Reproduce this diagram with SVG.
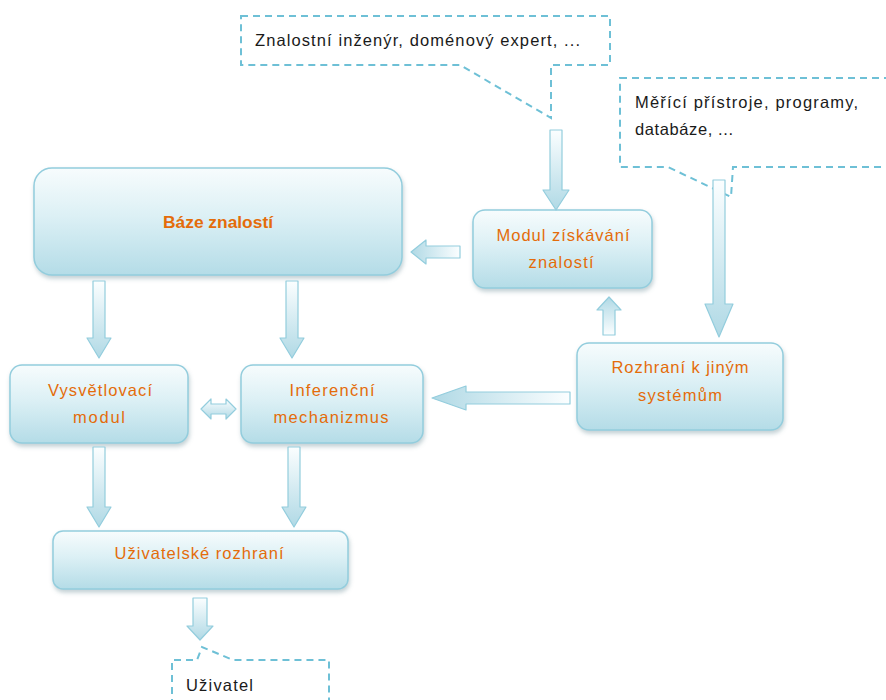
<svg xmlns="http://www.w3.org/2000/svg" width="886" height="700" viewBox="0 0 886 700">
  <style>
    .box { fill: url(#boxFill); stroke: #93cddd; stroke-width: 1.5; filter: url(#shadow); }
    .lbl { font-family: "Liberation Sans", Arial, sans-serif; font-size: 16.5px; fill: #e46c0a; text-anchor: middle; }
    .bold { font-weight: bold; font-size: 17px; }
    .note { fill: #ffffff; stroke: #6ec0d6; stroke-width: 2; stroke-dasharray: 7 5; }
    .notetxt { font-family: "Liberation Sans", Arial, sans-serif; font-size: 16.5px; fill: #1a1a1a; }
    .arr { fill: url(#arrFill); stroke: #93cddd; stroke-width: 1.2; stroke-linejoin: round; }
  </style>
  <defs>
    <linearGradient id="boxFill" x1="0" y1="0" x2="0" y2="1">
      <stop offset="0" stop-color="#f7fcfd"/>
      <stop offset="0.45" stop-color="#dcf0f5"/>
      <stop offset="1" stop-color="#b4dce7"/>
    </linearGradient>
    <linearGradient id="arrFill" x1="0" y1="0" x2="0" y2="1">
      <stop offset="0" stop-color="#fbfeff"/>
      <stop offset="1" stop-color="#b0d9e5"/>
    </linearGradient>
    <filter id="shadow" x="-10%" y="-10%" width="125%" height="140%">
      <feDropShadow dx="1" dy="3" stdDeviation="2" flood-color="#7a9aa3" flood-opacity="0.45"/>
    </filter>
  </defs>

  <!-- callouts -->
  <g id="note-experts">
    <path class="note" d="M241,16 H610 V65 H551 V118 L460,65 H241 Z"/>
    <text class="notetxt" x="255" y="46" textLength="325" lengthAdjust="spacing">Znalostní inženýr, doménový expert, ...</text>
  </g>
  <g id="note-systems">
    <path class="note" d="M620,78 H892 V167 H733 L731,197 L668,167 H620 Z"/>
    <text class="notetxt" x="635" y="108" textLength="223" lengthAdjust="spacing">Měřící přístroje, programy,</text>
    <text class="notetxt" x="635" y="135" textLength="98" lengthAdjust="spacing">databáze, ...</text>
  </g>
  <g id="note-user">
    <path class="note" d="M172,706 V660 H197 L202,647 L233,660 H329 V706"/>
    <text class="notetxt" x="186" y="691" textLength="67" lengthAdjust="spacing">Uživatel</text>
  </g>

  <!-- nodes -->
  <g id="knowledge-base">
    <rect class="box" x="34" y="168" width="368" height="107" rx="18"/>
    <text class="lbl bold" x="218" y="228" textLength="110" lengthAdjust="spacingAndGlyphs">Báze znalostí</text>
  </g>
  <g id="acquisition">
    <rect class="box" x="473" y="210" width="179" height="78" rx="12"/>
    <text class="lbl" x="563" y="241" textLength="133" lengthAdjust="spacing">Modul získávání</text>
    <text class="lbl" x="561" y="268" textLength="65" lengthAdjust="spacing">znalostí</text>
  </g>
  <g id="interface-systems">
    <rect class="box" x="577" y="343" width="206" height="87" rx="12"/>
    <text class="lbl" x="680" y="373" textLength="137" lengthAdjust="spacing">Rozhraní k jiným</text>
    <text class="lbl" x="680" y="401" textLength="84" lengthAdjust="spacing">systémům</text>
  </g>
  <g id="explanation">
    <rect class="box" x="10" y="365" width="178" height="78" rx="12"/>
    <text class="lbl" x="100" y="396" textLength="104" lengthAdjust="spacing">Vysvětlovací</text>
    <text class="lbl" x="99" y="423" textLength="52" lengthAdjust="spacing">modul</text>
  </g>
  <g id="inference">
    <rect class="box" x="241" y="365" width="182" height="78" rx="12"/>
    <text class="lbl" x="332" y="396" textLength="85" lengthAdjust="spacing">Inferenční</text>
    <text class="lbl" x="331" y="423" textLength="115" lengthAdjust="spacing">mechanizmus</text>
  </g>
  <g id="user-interface">
    <rect class="box" x="53" y="531" width="295" height="58" rx="10"/>
    <text class="lbl" x="199" y="559" textLength="169" lengthAdjust="spacing">Uživatelské rozhraní</text>
  </g>

  <!-- connectors: block arrows -->
  <g id="connectors">
    <!-- experts -> acquisition -->
    <path class="arr" d="M550,130 H562 V190 H569 L556,210 L543,190 H550 Z"/>
    <!-- systems note -> interface -->
    <path class="arr" d="M713,180 H725 V304 H733 L719,337 L705,304 H713 Z"/>
    <!-- acquisition -> knowledge base -->
    <path class="arr" transform="rotate(90 436 252)" d="M430,228 H442 V262 H448 L436,277 L424,262 H430 Z"/>
    <!-- interface -> acquisition -->
    <path class="arr" transform="rotate(180 609 316)" d="M603,297 H615 V322 H621 L609,335 L597,322 H603 Z"/>
    <!-- interface -> inference -->
    <path class="arr" transform="rotate(90 501 398)" d="M495,329 H507 V433 H513 L501,467 L489,433 H495 Z"/>
    <!-- knowledge base -> explanation / inference -->
    <path class="arr" d="M93,281 H105 V338 H111 L99,358 L87,338 H93 Z"/>
    <path class="arr" d="M286,281 H298 V338 H304 L292,358 L280,338 H286 Z"/>
    <!-- explanation <-> inference -->
    <path class="arr" d="M201,409 L211,399 V404 H226 V399 L236,409 L226,419 V414 H211 V419 Z"/>
    <!-- explanation / inference -> user interface -->
    <path class="arr" d="M93,447 H105 V507 H111 L99,527 L87,507 H93 Z"/>
    <path class="arr" d="M288,447 H300 V507 H306 L294,527 L282,507 H288 Z"/>
    <!-- user interface -> user -->
    <path class="arr" d="M193,598 H207 V626 H213 L200,640 L187,626 H193 Z"/>
  </g>
</svg>
